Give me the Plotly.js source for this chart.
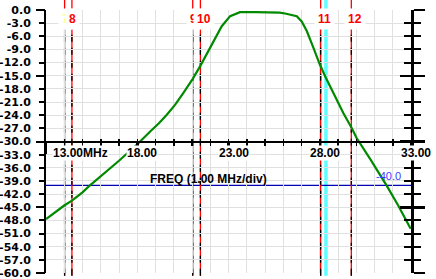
<!DOCTYPE html>
<html><head><meta charset="utf-8">
<script src="https://cdn.plot.ly/plotly-3.0.1.min.js"></script>
<style>html,body{margin:0;padding:0;background:#fff;}#chart{width:436px;height:279px;}</style>
</head><body><div id="chart"></div>
<script>
// ---- data ----
const freqMHz = [13.0, 13.5, 14.0, 14.42, 15.0, 15.33, 16.0, 16.52, 17.0, 17.5, 18.03, 18.71, 19.2, 19.62, 20.08, 20.53, 21.04, 21.45, 21.9, 22.27, 22.63, 23.09, 23.63, 24.5, 25.5, 25.8, 26.1, 26.37, 26.74, 27.01, 27.29, 27.65, 28.01, 28.34, 28.74, 29.29, 29.75, 30.02, 30.75, 31.3, 31.66, 32.3, 32.98];
const levelDb = [-47.7, -46.1, -44.6, -43.5, -41.6, -40.3, -38.0, -36.2, -34.4, -32.5, -30.5, -27.7, -25.8, -23.9, -21.6, -18.9, -15.7, -12.8, -9.4, -6.4, -3.7, -1.4, -0.5, -0.5, -0.5, -0.6, -0.8, -1.0, -1.4, -2.6, -4.8, -8.6, -12.5, -15.5, -18.9, -23.5, -26.9, -29.2, -33.9, -37.4, -40.0, -44.6, -49.9];
const markerIds = ['7', '8', '9', '10', '11', '12'];
const markerFreq = [14.02, 14.42, 21.04, 21.46, 28.05, 29.73];
const cursorFreq = [28.34];
const refLevelDb = [-40];
const refLabel = ['-40.0'];
const xTickVals = [13, 18, 23, 28, 33];
const xTickText = ['13.00MHz', '18.00', '23.00', '28.00', '33.00'];
const yTickVals = [0, -3, -6, -9, -12, -15, -18, -21, -24, -27, -30, -33, -36, -39, -42, -45, -48, -51, -54, -57, -60];
const yTickText = ['0.0', '-3.0', '-6.0', '-9.0', '-12.0', '-15.0', '-18.0', '-21.0', '-24.0', '-27.0', '-30.0', '-33.0', '-36.0', '-39.0', '-42.0', '-45.0', '-48.0', '-51.0', '-54.0', '-57.0', '-60.0'];
const axisLabel = 'FREQ (1.00 MHz/div)';

// ---- drawing ----
const FONT = 'Liberation Sans, Arial, sans-serif';
const YFONT = 'DejaVu Sans, Verdana, sans-serif';
const xRange = [xTickVals[0], xTickVals[xTickVals.length - 1]];
const yRange = [yTickVals[yTickVals.length - 1], yTickVals[0]];
const GRID = '#e0e0e0';

const traces = [
  {x: freqMHz, y: levelDb, type: 'scatter', mode: 'lines', line: {color: '#008a00', width: 2.2}, xaxis: 'x', yaxis: 'y', hoverinfo: 'skip'},
  {x: [], y: [], type: 'scatter', xaxis: 'x2', yaxis: 'y'},
  {x: [], y: [], type: 'scatter', xaxis: 'x', yaxis: 'y2'},
  {x: [], y: [], type: 'scatter', xaxis: 'x', yaxis: 'y3'},
  {x: [], y: [], type: 'scatter', xaxis: 'x', yaxis: 'y4'}
];

const shapes = [];
cursorFreq.forEach(f => shapes.push({type: 'line', layer: 'between', xref: 'x', yref: 'paper', x0: f, x1: f, y0: -0.01, y1: 1.04, line: {color: '#5cffff', width: 3.5}}));
refLevelDb.forEach(v => shapes.push({type: 'line', layer: 'between', xref: 'paper', yref: 'y', x0: 0, x1: 1, y0: v, y1: v, line: {color: '#0000b4', width: 1.2}}));
markerFreq.forEach(f => {
  shapes.push({type: 'line', layer: 'between', xref: 'x', yref: 'paper', x0: f, x1: f, y0: -0.01, y1: 1.04, line: {color: '#ff0000', width: 1.3}});
  shapes.push({type: 'line', layer: 'between', xref: 'x', yref: 'paper', x0: f, x1: f, y0: -0.01, y1: 0.93, line: {color: '#000000', width: 1.3, dash: '7px,6px'}});
});

const annotations = [];
markerIds.forEach((id, i) => annotations.push({
  xref: 'x', yref: 'paper', x: markerFreq[i], y: 0.964, xanchor: 'left', yanchor: 'middle', xshift: -7,
  text: id, showarrow: false, bgcolor: '#ffffff', borderpad: 3,
  font: {family: FONT, size: 12, weight: 'bold', color: id === '7' ? '#ffff99' : '#ff0000'}
}));
xTickVals.forEach((v, i) => annotations.push({
  xref: 'x', yref: 'y', x: v, y: yRange[0] / 2, xanchor: i === 0 ? 'left' : 'center', yanchor: 'top',
  xshift: i === 0 ? 6 : 5, yshift: -3, text: xTickText[i], showarrow: false, bgcolor: '#ffffff', borderpad: 0,
  font: {family: FONT, size: 12, weight: 'bold', color: '#000'}
}));
annotations.push({xref: 'paper', yref: 'paper', x: 0.444, y: 0.358, xanchor: 'center', yanchor: 'middle', text: axisLabel, showarrow: false,
  font: {family: FONT, size: 12, weight: 'bold', color: '#000'}});
refLevelDb.forEach((v, i) => annotations.push({xref: 'x', yref: 'y', x: xRange[1], y: v, xanchor: 'right', yanchor: 'bottom', xshift: -8, yshift: 1,
  text: refLabel[i], showarrow: false, font: {family: FONT, size: 11, color: '#3a3aff'}}));

const layout = {
  width: 436, height: 279,
  margin: {l: 46, r: 25, t: 10, b: 6, pad: 0},
  paper_bgcolor: '#ffffff', plot_bgcolor: '#ffffff', showlegend: false,
  font: {family: FONT, size: 11, color: '#000'},
  xaxis: {range: xRange, domain: [0, 1], anchor: 'free', position: 0.5, showline: true, linecolor: '#000', linewidth: 2,
    tickmode: 'array', tickvals: xTickVals, ticks: 'outside', ticklen: 11, tickwidth: 2.5, tickcolor: '#000', showticklabels: false,
    showgrid: true, gridcolor: GRID, gridwidth: 1, zeroline: false,
    minor: {tickmode: 'linear', tick0: xTickVals[0], dtick: 1, ticks: 'outside', ticklen: 3, tickwidth: 1.5, tickcolor: '#000', showgrid: true, gridcolor: GRID, gridwidth: 1}},
  xaxis2: {range: xRange, overlaying: 'x', anchor: 'free', position: 0.5, tickmode: 'linear', tick0: xTickVals[0], dtick: 1,
    ticks: 'inside', ticklen: 3, tickwidth: 1.5, tickcolor: '#000', showticklabels: false, showgrid: false, showline: false, zeroline: false},
  yaxis: {range: yRange, domain: [0, 1], anchor: 'x', side: 'left', showline: true, linecolor: '#000', linewidth: 2,
    tickmode: 'array', tickvals: yTickVals, ticktext: yTickText, ticks: 'outside', ticklen: 5, tickwidth: 2, tickcolor: '#000',
    tickfont: {family: YFONT, size: 11, weight: 'bold', color: '#000'}, ticklabelstandoff: 6, ticklabeloverflow: 'allow',
    showgrid: true, gridcolor: GRID, gridwidth: 1, zeroline: false},
  yaxis2: {range: yRange, overlaying: 'y', anchor: 'x', side: 'left', tickmode: 'linear', tick0: 0, dtick: 15,
    ticks: 'outside', ticklen: 9, tickwidth: 2, tickcolor: '#000', showticklabels: false, showgrid: false, showline: false, zeroline: false},
  yaxis3: {range: yRange, overlaying: 'y', anchor: 'x', side: 'right', tickmode: 'linear', tick0: 0, dtick: 15,
    ticks: 'outside', ticklen: 11, tickwidth: 2.5, tickcolor: '#000', showticklabels: false, showgrid: false,
    showline: true, linecolor: '#000', linewidth: 3, zeroline: false,
    minor: {tickmode: 'linear', tick0: 0, dtick: 3, ticks: 'outside', ticklen: 7, tickwidth: 2, tickcolor: '#000', showgrid: false}},
  yaxis4: {range: yRange, overlaying: 'y', anchor: 'x', side: 'right', tickmode: 'linear', tick0: 0, dtick: 15,
    ticks: 'inside', ticklen: 11, tickwidth: 2.5, tickcolor: '#000', showticklabels: false, showgrid: false, showline: false, zeroline: false,
    minor: {tickmode: 'linear', tick0: 0, dtick: 3, ticks: 'inside', ticklen: 7, tickwidth: 2, tickcolor: '#000', showgrid: false}},
  shapes: shapes,
  annotations: annotations
};

Plotly.newPlot('chart', traces, layout, {staticPlot: true, displayModeBar: false});
</script></body></html>
